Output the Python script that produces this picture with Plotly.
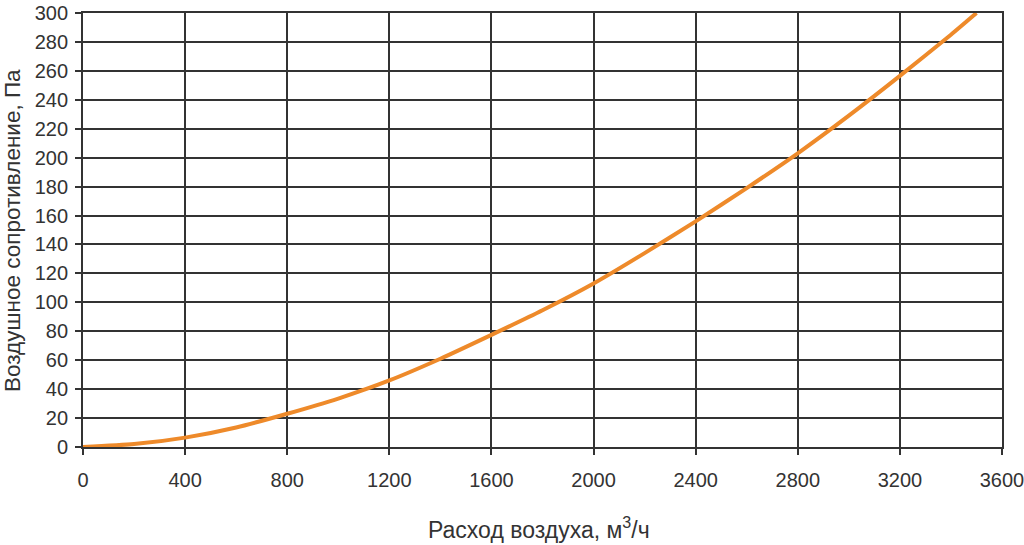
import plotly.graph_objects as go

flow = [0, 200, 400, 600, 800, 1000, 1200, 1400, 1600, 1800, 2000, 2200, 2400, 2600, 2800, 3000, 3200, 3400, 3500]
pressure = [0, 2, 6.5, 13.5, 23, 33.5, 46, 61, 77.5, 94.5, 113, 134, 156, 179, 203, 229, 256.5, 285, 300]

x_ticks = [0, 400, 800, 1200, 1600, 2000, 2400, 2800, 3200, 3600]
y_ticks = list(range(0, 301, 20))

GRID = "#333333"
FONT = "Liberation Sans, Arial, sans-serif"

L, R, T, B = 83, 22, 13, 98
PW, PH = 1024 - L - R, 545 - T - B

fig = go.Figure()
fig.add_trace(go.Scatter(
    x=flow, y=pressure, mode="lines",
    line=dict(color="#EE8A2A", width=4, shape="spline", smoothing=0.6),
    hoverinfo="skip", showlegend=False,
))

fig.update_layout(
    width=1024, height=545,
    margin=dict(l=L, r=R, t=T, b=B, autoexpand=False),
    paper_bgcolor="white", plot_bgcolor="white",
    font=dict(family=FONT, size=20, color="#333333"),
)
fig.update_xaxes(
    range=[0, 3600], tickvals=x_ticks, ticktext=[str(v) for v in x_ticks],
    showgrid=True, gridcolor=GRID, gridwidth=1.8,
    showline=True, linecolor=GRID, linewidth=1.8, mirror=True,
    ticks="outside", ticklen=6, tickcolor=GRID, tickwidth=1.8,
    zeroline=False, ticklabelstandoff=8, ticklabeloverflow="allow",
    automargin=False,
)
fig.update_yaxes(
    range=[0, 300], tickvals=y_ticks, ticktext=[str(v) for v in y_ticks],
    showgrid=True, gridcolor=GRID, gridwidth=1.8,
    showline=True, linecolor=GRID, linewidth=1.8, mirror=True,
    ticks="outside", ticklen=6, tickcolor=GRID, tickwidth=1.8,
    zeroline=False, ticklabelstandoff=3, ticklabeloverflow="allow",
    automargin=False,
)

fig.add_annotation(
    text="Расход воздуха, м<sup>3</sup>/ч", showarrow=False,
    xref="paper", yref="paper",
    x=(539 - L) / PW, y=(545 - B - 528) / PH,
    xanchor="center", yanchor="middle",
    font=dict(size=23, color="#333333", family=FONT),
)
fig.add_annotation(
    text="Воздушное сопротивление, Па", showarrow=False, textangle=-90,
    xref="paper", yref="paper",
    x=(13 - L) / PW, y=(545 - B - 231) / PH,
    xanchor="center", yanchor="middle",
    font=dict(size=22.5, color="#333333", family=FONT),
)

fig.write_html("out.html")
